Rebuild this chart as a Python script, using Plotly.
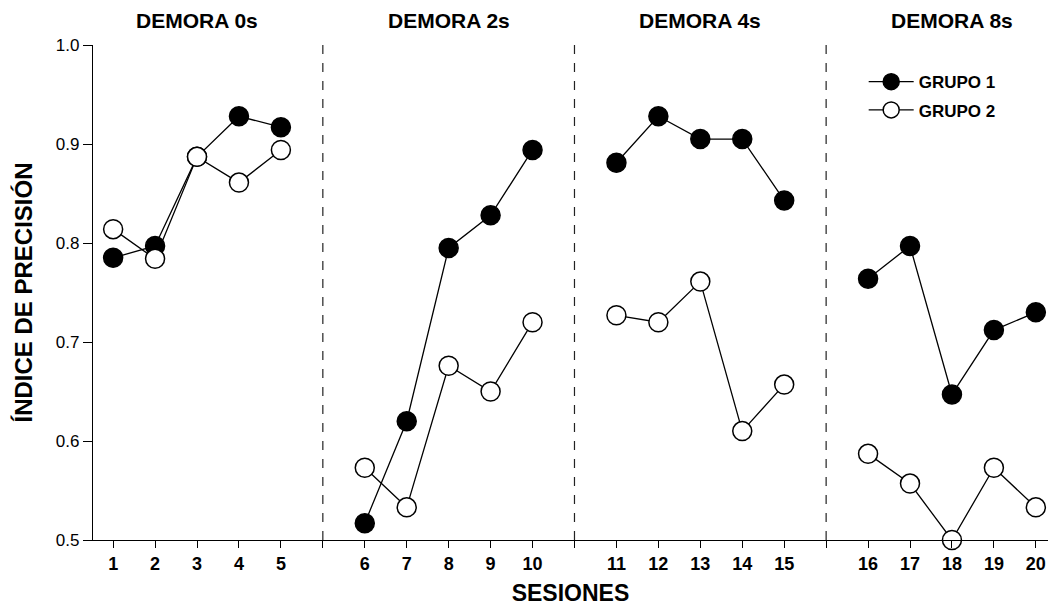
import plotly.graph_objects as go

sessions = list(range(1, 21))
grupo1 = [0.785, 0.797, 0.887, 0.928, 0.917,
          0.517, 0.620, 0.795, 0.828, 0.894,
          0.881, 0.928, 0.905, 0.905, 0.843,
          0.764, 0.797, 0.647, 0.712, 0.730]
grupo2 = [0.814, 0.784, 0.887, 0.861, 0.894,
          0.573, 0.533, 0.676, 0.650, 0.720,
          0.727, 0.720, 0.761, 0.610, 0.657,
          0.587, 0.557, 0.500, 0.573, 0.533]
phases = ["DEMORA 0s", "DEMORA 2s", "DEMORA 4s", "DEMORA 8s"]
y_ticks = [0.5, 0.6, 0.7, 0.8, 0.9, 1.0]

FONT = "Liberation Sans, Arial, sans-serif"

def pos(s):
    return s + (s - 1) // 5

fig = go.Figure()

def add_group(vals, name, fill, legend):
    xs, ys = [], []
    for i, s in enumerate(sessions):
        xs.append(pos(s)); ys.append(vals[i])
        if s % 5 == 0 and s != 20:
            xs.append(None); ys.append(None)
    fig.add_trace(go.Scatter(
        x=xs, y=ys, mode="lines+markers", name="<b>" + name + "</b>",
        line=dict(color="black", width=1.3),
        marker=dict(symbol="circle", size=19, color=fill,
                    line=dict(color="black", width=1.5)),
        cliponaxis=False, connectgaps=False, legend=legend,
    ))

add_group(grupo1, "GRUPO 1", "black", "legend")
add_group(grupo2, "GRUPO 2", "white", "legend2")

dividers = [6, 12, 18]
for d in dividers:
    fig.add_shape(type="line", xref="x", yref="paper", x0=d, x1=d, y0=0, y1=1.01,
                  line=dict(color="#222", width=1.2, dash="dash"))

for k, ph in enumerate(phases):
    center = pos(5 * k + 3)
    fig.add_annotation(x=center, xref="x", y=1.0, yref="paper", yshift=25, yanchor="middle",
                       text="<b>" + ph + "</b>", showarrow=False,
                       font=dict(family=FONT, size=21, color="black"))

tickvals = [pos(s) for s in sessions] + dividers
ticktext = ["<b>%d</b>" % s for s in sessions] + ["" for _ in dividers]

leg_common = dict(xanchor="left", yanchor="middle", bgcolor="rgba(0,0,0,0)",
                  font=dict(family=FONT, size=17, color="black"), itemwidth=45)

fig.update_layout(
    width=1048, height=598,
    margin=dict(l=85, r=8, t=37, b=66),
    plot_bgcolor="white", paper_bgcolor="white",
    font=dict(family=FONT, color="black"),
    showlegend=True,
    legend=dict(x=0.807, y=0.925, **leg_common),
    legend2=dict(x=0.807, y=0.868, **leg_common),
)
fig.update_xaxes(range=[0.52, 23.29], tickvals=tickvals, ticktext=ticktext,
                 showgrid=False, zeroline=False, showline=True, linecolor="black", linewidth=1.3,
                 ticks="outside", ticklen=7, tickwidth=1.3, tickcolor="black", automargin=False,
                 tickfont=dict(family=FONT, size=18, color="black"),
                 title=dict(text="<b>SESIONES</b>", font=dict(family=FONT, size=23, color="black"), standoff=21))
fig.update_yaxes(range=[0.5, 1.0], tickvals=y_ticks, ticktext=["%.1f" % v for v in y_ticks],
                 showgrid=False, zeroline=False, showline=True, linecolor="black", linewidth=1.3,
                 ticks="outside", ticklen=9, tickwidth=1.3, tickcolor="black", automargin=False,
                 tickfont=dict(family=FONT, size=17, color="black"),
                 title=dict(text="<b>ÍNDICE DE PRECISIÓN</b>", font=dict(family=FONT, size=24, color="black"), standoff=16))

fig.write_html("out.html")
